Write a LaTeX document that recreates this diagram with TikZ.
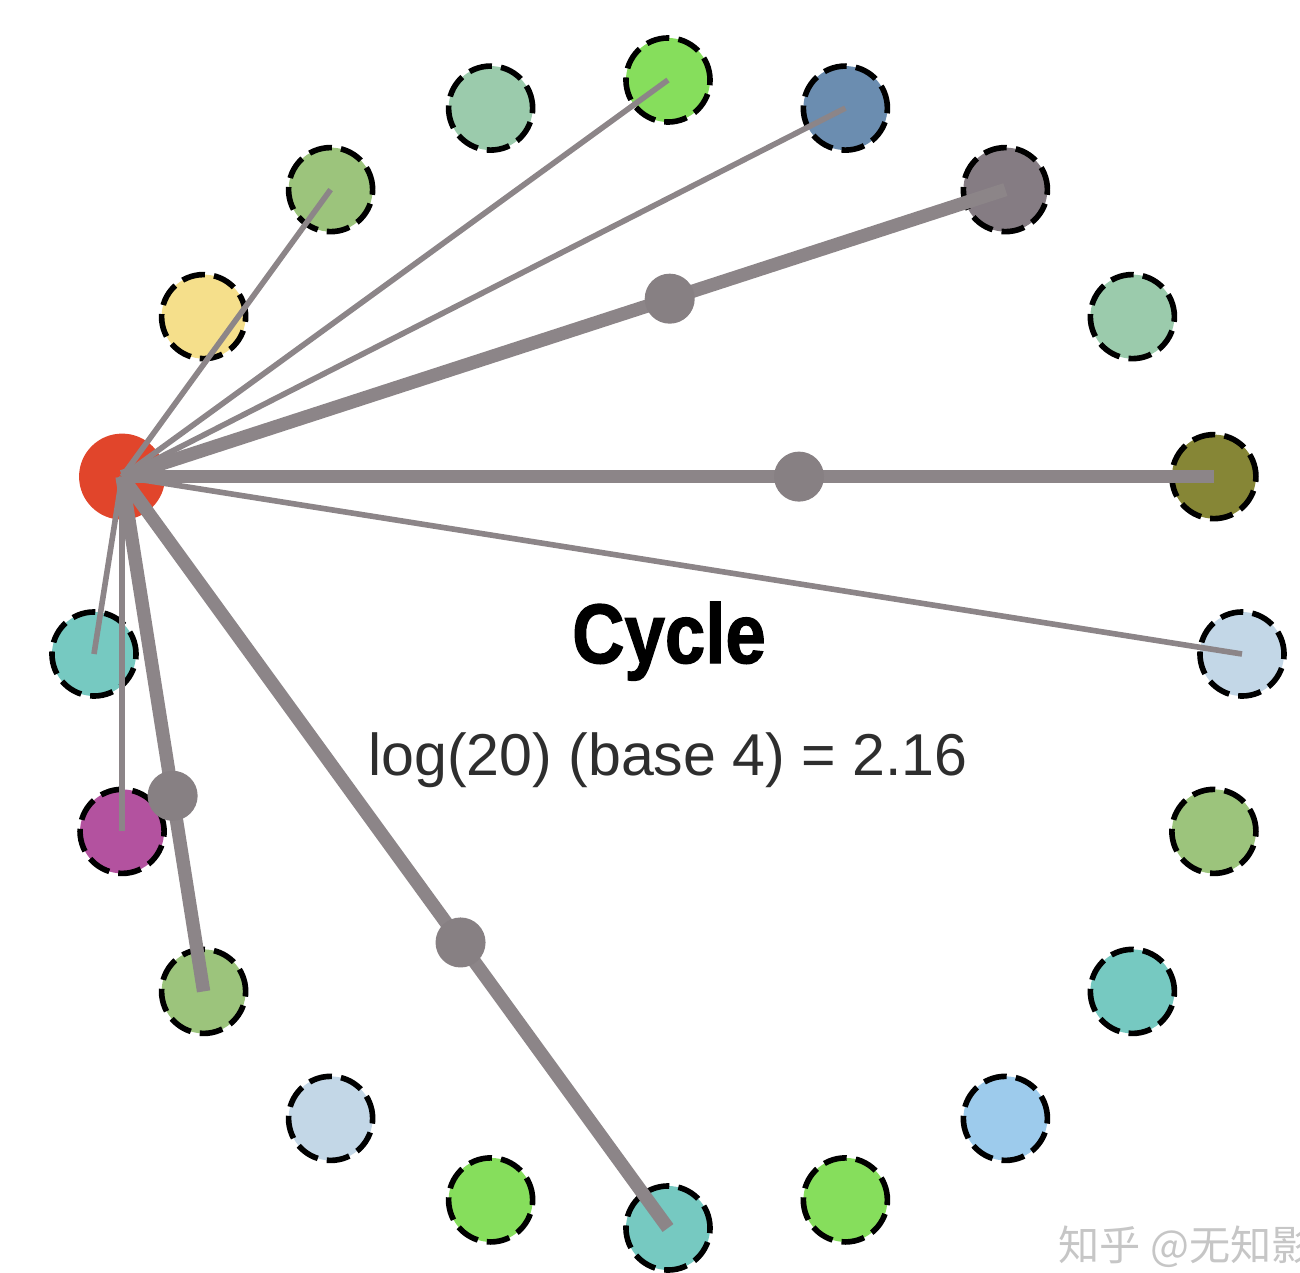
\documentclass[tikz,border=0pt]{standalone}
\usepackage{fontspec}
\setmainfont{Liberation Sans}
\newfontfamily\heavyfont{Liberation Sans}[BoldFeatures={FakeBold=1.6}]
\newfontfamily\cjk{Noto Sans CJK SC}
\usepackage{xcolor}
\usepackage{tikz}

\definecolor{lime}{HTML}{86DE5C}
\definecolor{steel}{HTML}{6B8DB0}
\definecolor{mauve}{HTML}{857C83}
\definecolor{mint}{HTML}{9BCBAC}
\definecolor{olive}{HTML}{868636}
\definecolor{frost}{HTML}{C3D7E7}
\definecolor{leaf}{HTML}{9CC47C}
\definecolor{teal}{HTML}{76C9C1}
\definecolor{sky}{HTML}{9DCBEC}
\definecolor{plum}{HTML}{B3529F}
\definecolor{sand}{HTML}{F5DF8B}
\definecolor{ember}{HTML}{E1452B}
\definecolor{linkgray}{HTML}{8C8588}
\definecolor{knotgray}{HTML}{878083}
\definecolor{textgray}{HTML}{2E2E2E}
\definecolor{markgray}{HTML}{C6C6C6}

\tikzset{
    vertex/.style={circle,draw=black,line width=1.6pt,dash pattern=on 6.6pt off 2.6pt,minimum size=0.84cm,inner sep=0pt},
    source/.style={circle,fill=ember,minimum size=0.86cm,inner sep=0pt},
    link/.style={draw=linkgray,line width=1.6pt},
    heavy/.style={draw=linkgray,line width=3.8pt},
    knot/.style={circle,fill=knotgray,minimum size=0.5cm,inner sep=0pt}
}

\begin{document}
\begin{tikzpicture}[x=0.01cm,y=0.01cm]
    \useasboundingbox (-668,-618) rectangle (632,654);
    % ring of vertices, clockwise from the top
    \foreach \k/\c in {0/lime,1/steel,2/mauve,3/mint,4/olive,5/frost,6/leaf,7/teal,8/sky,9/lime,
                       10/teal,11/lime,12/frost,13/leaf,14/plum,15/teal,17/sand,18/leaf,19/mint}
        \node[vertex,fill=\c] (n\k) at ({90-18*\k}:574) {};
    \node[source] (n16) at (162:574) {};
    % edges from the source
    \foreach \t in {18,0,1,5,14,15}
        \draw[link] (n16.center) -- (n\t.center);
    \foreach \t in {2,4,10,13}
        \draw[heavy] (n16.center) -- node[knot,pos=0.62] (m\t) {} (n\t.center);
    % labels
    \node[font=\heavyfont\bfseries\fontsize{24}{28}\selectfont,anchor=base] (title) at (1,-9) {\scalebox{0.86}[1]{Cycle}};
    \node[font=\fontsize{16.8}{20}\selectfont,text=textgray,anchor=base] (formula) at (0,-121) {log(20) (base 4) = 2.16};
    \node[font=\cjk\fontsize{11.7}{14}\selectfont,text=markgray,anchor=base west,inner sep=0pt] (mark) at (390,-606) {知乎 @无知影};
\end{tikzpicture}
\end{document}
